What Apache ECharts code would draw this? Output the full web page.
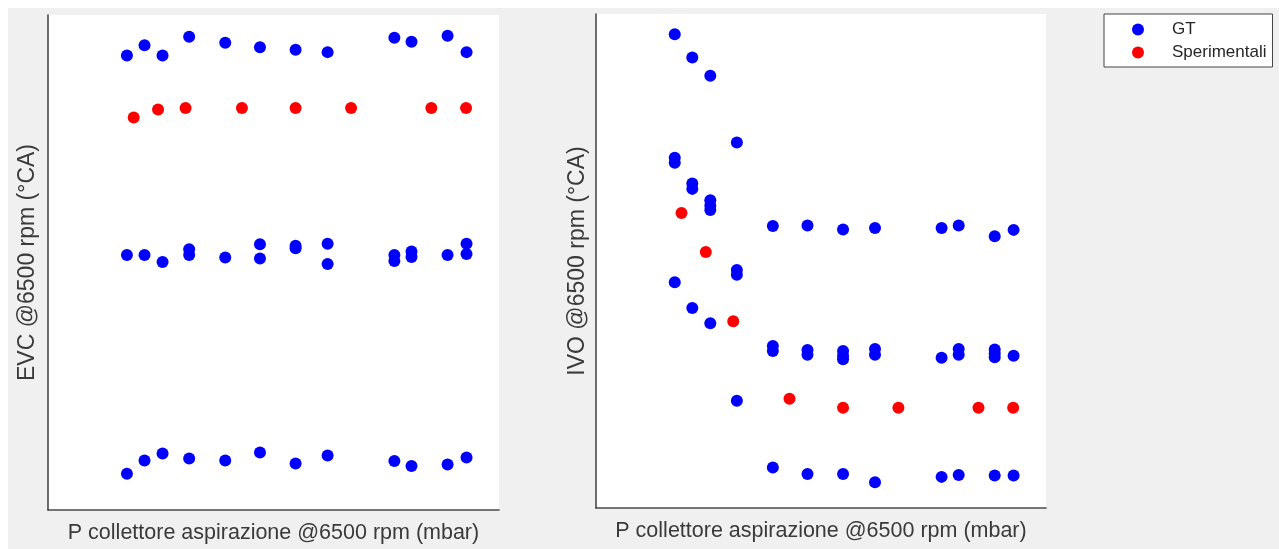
<!DOCTYPE html>
<html>
<head>
<meta charset="utf-8">
<script src="https://cdn.jsdelivr.net/npm/echarts@6/dist/echarts.min.js"></script>
<style>
  html, body { margin: 0; padding: 0; background: #ffffff; width: 1279px; height: 549px; overflow: hidden; }
  #chart { position: absolute; left: 8px; top: 8px; width: 1271px; height: 541px; background: #f0f0f0; }
</style>
</head>
<body>
<div id="chart"></div>
<script>
// Shared pressure columns (arbitrary units, axis has no tick labels)
const xCols = [17.5, 21.4, 25.4, 31.3, 39.3, 47.0, 54.9, 62.0, 76.8, 80.6, 88.6, 92.8];
const xExp  = [19.0, 24.4, 30.5, 43.0, 54.9, 67.2, 85.0, 92.7];

// EVC - GT values per column
const evcGT = [
  [91.8, 51.5, 7.3],
  [93.9, 51.5, 10.0],
  [91.8, 50.1, 11.4],
  [95.6, 52.7, 51.5, 10.4],
  [94.4, 51.0, 10.0],
  [93.5, 53.7, 50.8, 11.6],
  [93.0, 53.4, 52.9, 9.4],
  [92.5, 53.8, 49.7, 11.0],
  [95.4, 51.5, 50.3, 9.9],
  [94.6, 52.2, 51.1, 8.9],
  [95.8, 51.5, 9.2],
  [92.5, 53.8, 51.7, 10.6]
];
// EVC - Sperimentali
const evcExp = [79.3, 80.9, 81.2, 81.2, 81.2, 81.2, 81.2, 81.2];

// IVO - GT values per column
const ivoGT = [
  [95.9, 70.9, 69.9, 45.7],
  [91.2, 65.7, 64.6, 40.5],
  [87.5, 62.3, 61.2, 60.3, 37.4],
  [74.0, 48.2, 47.2, 21.7],
  [57.1, 32.8, 31.8, 8.2],
  [57.2, 32.0, 31.0, 6.9],
  [56.4, 31.8, 30.8, 30.1, 6.9],
  [56.7, 32.2, 31.0, 5.2],
  [56.7, 30.4, 6.3],
  [57.2, 32.2, 31.0, 6.7],
  [55.0, 32.1, 31.3, 30.5, 6.6],
  [56.3, 30.8, 6.6]
];
// IVO - Sperimentali
const ivoExp = [59.7, 51.8, 37.8, 22.1, 20.3, 20.3, 20.3, 20.3];

const xName = 'P collettore aspirazione @6500 rpm (mbar)';
const yNameL = 'EVC @6500 rpm (°CA)';
const yNameR = 'IVO @6500 rpm (°CA)';

function flatten(cols, vals) {
  const out = [];
  vals.forEach((arr, i) => arr.forEach(v => out.push([cols[i], v])));
  return out;
}
function pair(cols, vals) { return vals.map((v, i) => [cols[i], v]); }

const FONT = 'Liberation Sans, Arial, sans-serif';
const TXT = '#3a3a3a';
const axisLine = { show: true, lineStyle: { color: '#4a4a4a', width: 1.6 } };

function xAxis(idx) {
  return {
    type: 'value', gridIndex: idx, min: 0, max: 100,
    name: xName, nameLocation: 'middle', nameGap: 12,
    nameTextStyle: { fontFamily: FONT, fontSize: 21.5, color: TXT },
    axisLine: axisLine, axisTick: { show: false }, axisLabel: { show: false }, splitLine: { show: false }
  };
}
function yAxis(idx, name, gap) {
  return {
    type: 'value', gridIndex: idx, min: 0, max: 100,
    name: name, nameLocation: 'middle', nameGap: gap,
    nameTextStyle: { fontFamily: FONT, fontSize: 23, color: TXT },
    axisLine: axisLine, axisTick: { show: false }, axisLabel: { show: false }, splitLine: { show: false }
  };
}

const BLUE = '#0000ff', RED = '#ff0000';
function sc(name, xi, data, color) {
  return {
    name: name, type: 'scatter', xAxisIndex: xi, yAxisIndex: xi,
    data: data, symbol: 'circle', symbolSize: 12,
    itemStyle: { color: color, opacity: 1 }, emphasis: { disabled: true }, animation: false
  };
}

const chart = echarts.init(document.getElementById('chart'), null, { renderer: 'canvas' });
chart.setOption({
  animation: false,
  backgroundColor: '#f0f0f0',
  grid: [
    { left: 40, top: 7, width: 451, height: 495, show: true, backgroundColor: '#ffffff', borderWidth: 0 },
    { left: 588, top: 6, width: 450, height: 494, show: true, backgroundColor: '#ffffff', borderWidth: 0 }
  ],
  xAxis: [xAxis(0), xAxis(1)],
  yAxis: [yAxis(0, yNameL, 9), yAxis(1, yNameR, 7)],
  legend: {
    orient: 'vertical', left: 1096, top: 6,
    padding: [7, 6, 6, 28], itemGap: 6,
    itemWidth: 58, itemHeight: 12,
    backgroundColor: '#ffffff', borderColor: '#444444', borderWidth: 1,
    textStyle: { fontFamily: FONT, fontSize: 17, color: '#262626', lineHeight: 17 },
    data: [{ name: 'GT', icon: 'circle' }, { name: 'Sperimentali', icon: 'circle' }],
    selectedMode: false
  },
  series: [
    sc('GT', 0, flatten(xCols, evcGT), BLUE),
    sc('Sperimentali', 0, pair(xExp, evcExp), RED),
    sc('GT', 1, flatten(xCols, ivoGT), BLUE),
    sc('Sperimentali', 1, pair(xExp, ivoExp), RED)
  ]
});
</script>
</body>
</html>
